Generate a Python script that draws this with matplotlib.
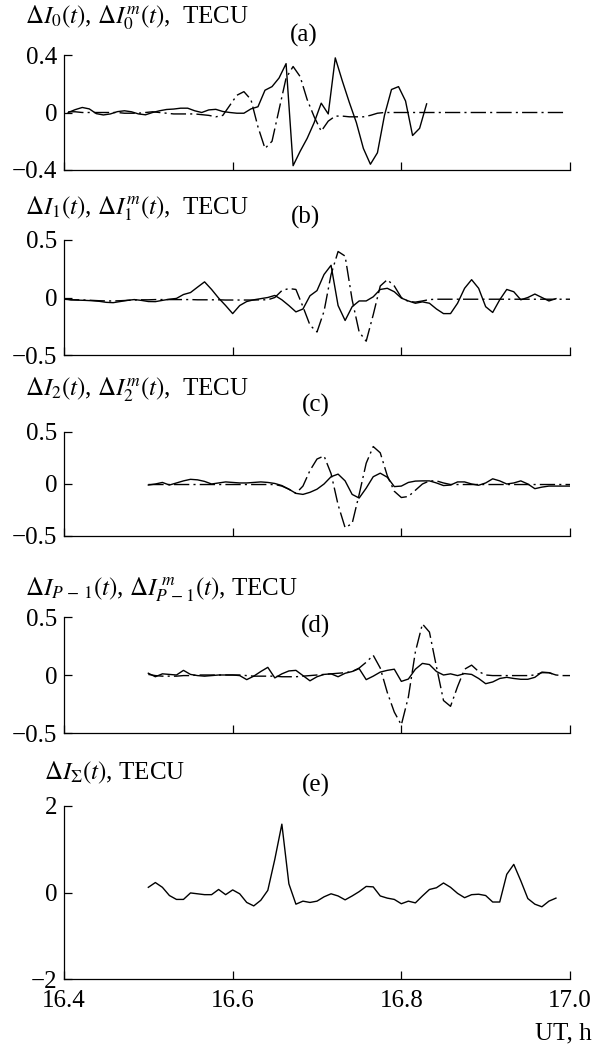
import numpy as np
import matplotlib
matplotlib.use("Agg")
import matplotlib.pyplot as plt

plt.rcParams["font.family"] = ["Liberation Serif", "DejaVu Serif"]
plt.rcParams["mathtext.fontset"] = "stix"
plt.rcParams["font.size"] = 18

DT = 1 / 120  # 30 s sampling step, hours

# ---- panel (a) ----
A_T0 = 16.405
A_OBS = [0.0, 0.02, 0.035, 0.025, -0.008, -0.017, -0.01, 0.006, 0.012, 0.005,
         -0.01, -0.016, 0.0, 0.012, 0.021, 0.024, 0.03, 0.03, 0.012, 0.0,
         0.018, 0.022, 0.007, 0.0, -0.005, -0.005, 0.025, 0.04,
         0.155, 0.18, 0.24, 0.34, -0.37, -0.27, -0.18, -0.07, 0.065, -0.01,
         0.38, 0.22, 0.07, -0.07, -0.25, -0.36, -0.28, -0.02, 0.16, 0.18,
         0.08, -0.16, -0.11, 0.06]
A_MOD = [0.005, 0.005, 0.0, 0.0, 0.0, 0.0, 0.0, 0.0, -0.005, -0.005,
         -0.005, 0.0, 0.005, 0.0, -0.005, -0.01, -0.01, -0.01,
         -0.01, -0.015, -0.02, -0.03, -0.02, 0.05, 0.12, 0.145, 0.09, -0.1,
         -0.25, -0.2, 0.02, 0.24, 0.32, 0.25, 0.09, -0.03, -0.13, -0.06,
         -0.025, -0.025, -0.03, -0.03, -0.03, -0.02, -0.005, 0.0,
         0.0, 0.0, 0.0, 0.0, 0.0, 0.0, 0.0, 0.0, 0.0, 0.0, 0.0, 0.0, 0.0,
         0.0, 0.0, 0.0, 0.0, 0.0, 0.0, 0.0, 0.0, 0.0, 0.0, 0.0, 0.0, 0.0]

# ---- panel (b) ----
B_T0 = 16.4
B_OBS = [-0.01, -0.02, -0.023, -0.025, -0.028, -0.033, -0.042, -0.045, -0.035, -0.025,
         -0.018, -0.025, -0.035, -0.036, -0.025, -0.015, -0.008, 0.026, 0.043, 0.09,
         0.136, 0.07, -0.005, -0.07, -0.14, -0.07, -0.035, -0.02, -0.01, 0.0,
         0.018, -0.02, -0.07, -0.125, -0.1, 0.015, 0.06, 0.2, 0.28, -0.07,
         -0.2, -0.08, -0.03, -0.03, 0.006, 0.07, 0.08, 0.05, -0.005, -0.03,
         -0.05, -0.038, -0.05, -0.1, -0.14, -0.14, -0.05, 0.08, 0.155, 0.08,
         -0.08, -0.13, -0.02, 0.07, 0.05, -0.02, 0.0, 0.03, 0.0, -0.03, -0.01]
B_MOD = [-0.015, -0.02, -0.02, -0.022, -0.025, -0.028, -0.03, -0.03, -0.028, -0.025,
         -0.022, -0.02, -0.02, -0.018, -0.018, -0.018, -0.018, -0.018, -0.018, -0.02,
         -0.02, -0.02, -0.02, -0.022, -0.022, -0.022, -0.022, -0.022, -0.02,
         -0.02, 0.0, 0.06, 0.078, 0.07, -0.08, -0.24, -0.3, -0.12, 0.2, 0.4, 0.36,
         -0.02, -0.3, -0.38, -0.15, 0.1, 0.155, 0.1, 0.0, -0.035, -0.04, -0.03, -0.018,
         -0.015, -0.015, -0.015, -0.015, -0.015, -0.015, -0.015, -0.015, -0.015, -0.015,
         -0.015, -0.015, -0.015, -0.015, -0.015, -0.015, -0.015, -0.015, -0.015, -0.015]

# ---- panel (c) ----
C_T0 = 16.5
C_OBS = [-0.01, 0.0, 0.015, -0.01, 0.01, 0.03, 0.045, 0.04, 0.025, 0.0,
         0.01, 0.02, 0.015, 0.01, 0.01, 0.015, 0.02, 0.015, 0.005, -0.015,
         -0.05, -0.09, -0.1, -0.08, -0.05, 0.0, 0.07, 0.095, 0.03, -0.1,
         -0.135, -0.04, 0.07, 0.104, 0.065, -0.025, -0.02, 0.015, 0.028, 0.03,
         0.03, 0.01, -0.015, -0.01, 0.02, 0.02, 0.0, -0.012, 0.01, 0.05,
         0.03, 0.0, 0.01, 0.03, 0.0, -0.045, -0.03, -0.02, -0.02, -0.02, -0.02]
C_MOD = [-0.005, -0.005, -0.005, -0.005, -0.005, -0.005, -0.005, -0.005, -0.005, -0.005,
         -0.005, -0.005, -0.005, -0.005, -0.005, -0.005, -0.005, -0.005, -0.005,
         -0.02, -0.05, -0.09, -0.02, 0.13, 0.24, 0.27, 0.1, -0.2, -0.42, -0.38,
         -0.1, 0.2, 0.36, 0.3, 0.08, -0.07, -0.13, -0.12, -0.06, 0.0, 0.03, 0.03, 0.01,
         -0.005, -0.005, -0.005, -0.005, -0.005, -0.005, -0.005, -0.005, -0.005,
         -0.005, -0.005, -0.005, -0.005, -0.005, -0.005, -0.005, -0.005, -0.005]

# ---- panel (d) ----
D_T0 = 16.5
D_OBS = [0.015, -0.015, 0.01, 0.005, 0.0, 0.04, 0.005, -0.005, -0.01, -0.005,
         0.0, 0.0, 0.0, -0.005, -0.04, -0.01, 0.03, 0.066, -0.025, 0.01,
         0.035, 0.04, -0.005, -0.05, -0.015, 0.005, 0.01, -0.015, 0.015, 0.03,
         0.055, -0.04, -0.01, 0.025, 0.04, 0.05, -0.055, -0.035, 0.05, 0.1,
         0.09, 0.03, 0.0, 0.01, -0.005, 0.012, 0.005, -0.03, -0.075, -0.06,
         -0.03, -0.02, -0.03, -0.037, -0.037, -0.02, 0.025, 0.02, 0.0]
D_MOD = [0.005, -0.005, -0.01, -0.01, -0.01, -0.005, -0.005, 0.0, 0.0, 0.0,
         0.0, 0.0, 0.0, 0.0, -0.005, -0.01, -0.01, -0.01, -0.01, -0.015,
         -0.015, -0.015, -0.01, -0.005, 0.0, 0.005, 0.01, 0.015, 0.02,
         0.03, 0.06, 0.11, 0.17, 0.06, -0.15, -0.32, -0.43, -0.19, 0.2, 0.44,
         0.37, 0.07, -0.22, -0.27, -0.1, 0.05, 0.085, 0.03, 0.0,
         -0.005, -0.005, -0.005, -0.005, -0.005, -0.005, 0.0, 0.02, 0.02, 0.0,
         -0.005, -0.005]

# ---- panel (e) ----
E_T0 = 16.5
E_OBS = [0.12, 0.23, 0.12, -0.07, -0.16, -0.16, -0.01, -0.03, -0.05, -0.05,
         0.07, -0.05, 0.06, -0.03, -0.23, -0.31, -0.18, 0.05, 0.77, 1.58,
         0.2, -0.27, -0.2, -0.23, -0.2, -0.1, -0.03, -0.08, -0.17, -0.08,
         0.02, 0.14, 0.13, -0.08, -0.13, -0.16, -0.26, -0.2, -0.24, -0.08,
         0.07, 0.11, 0.22, 0.12, -0.02, -0.12, -0.05, -0.04, -0.07, -0.22,
         -0.22, 0.42, 0.65, 0.27, -0.14, -0.27, -0.33, -0.2, -0.13]

X_TICKS = [16.4, 16.6, 16.8, 17.0]
X_LABELS = ["16.4", "16.6", "16.8", "17.0"]

W, H = 594, 1050
DASHDOT = (0, (11, 3, 1.5, 3))


def box(left, top, right, bottom):
    return [left / W, 1 - bottom / H, (right - left) / W, (bottom - top) / H]


def times(t0, vals):
    return t0 + DT * np.arange(len(vals))


fig = plt.figure(figsize=(W / 100, H / 100), dpi=100)

panels = [
    # (pixel box, t0, obs, model, ylim, ytick labels)
    ((64, 55, 570, 170), A_T0, A_OBS, A_MOD, 0.4, ["\u22120.4", "0", "0.4"]),
    ((64, 240, 570, 355), B_T0, B_OBS, B_MOD, 0.5, ["\u22120.5", "0", "0.5"]),
    ((64, 432, 570, 536), C_T0, C_OBS, C_MOD, 0.5, ["\u22120.5", "0", "0.5"]),
    ((64, 617, 570, 733), D_T0, D_OBS, D_MOD, 0.5, ["\u22120.5", "0", "0.5"]),
    ((64, 806, 570, 979), E_T0, E_OBS, None, 2, ["\u22122", "0", "2"]),
]

for i, (pb, t0, obs, mod, ym, ylabs) in enumerate(panels):
    ax = fig.add_axes(box(*pb))
    ax.plot(times(t0, obs), obs, color="black", lw=1.0)
    if mod is not None:
        ax.plot(times(t0, mod), mod, color="black", lw=1.0, linestyle=DASHDOT)
    ax.set_xlim(16.4, 17.0)
    ax.set_ylim(-ym, ym)
    ax.set_yticks([-ym, 0, ym])
    ax.set_yticklabels(ylabs)
    ax.set_xticks(X_TICKS)
    if i == len(panels) - 1:
        ax.set_xticklabels(X_LABELS)
    else:
        ax.set_xticklabels([])
    for s in ["top", "right"]:
        ax.spines[s].set_visible(False)
    for s in ["left", "bottom"]:
        ax.spines[s].set_linewidth(0.9)
    ax.tick_params(direction="in", length=6, width=0.9, labelsize=18)
    ax.tick_params(axis="y", pad=5)
    ax.tick_params(axis="x", pad=8)

# axis titles
fig.text(25 / W, 1 - 23 / H, r"$\Delta I_0(t)$, $\Delta I_0^m(t)$,  TECU",
         ha="left", va="baseline", fontsize=18)
fig.text(25 / W, 1 - 214 / H, r"$\Delta I_1(t)$, $\Delta I_1^m(t)$,  TECU",
         ha="left", va="baseline", fontsize=18)
fig.text(25 / W, 1 - 395 / H, r"$\Delta I_2(t)$, $\Delta I_2^m(t)$,  TECU",
         ha="left", va="baseline", fontsize=18)
fig.text(25 / W, 1 - 595 / H,
         r"$\Delta I_{P\,-\,1}(t)$, $\Delta I_{P\,-1}^{\;m}(t)$, TECU",
         ha="left", va="baseline", fontsize=18)
fig.text(44 / W, 1 - 779 / H, r"$\Delta I_{\Sigma}(t)$, TECU",
         ha="left", va="baseline", fontsize=18)

# panel letters
for lab, x, y in [("(a)", 304, 35), ("(b)", 305, 217), ("(c)", 316, 405),
                  ("(d)", 315, 626), ("(e)", 316, 785)]:
    fig.text(x / W, 1 - y / H, lab, ha="center", va="center", fontsize=18)

fig.text(592 / W, 1 - 1033 / H, "UT, h", ha="right", va="center", fontsize=18)

fig.savefig("out.png", dpi=100)
